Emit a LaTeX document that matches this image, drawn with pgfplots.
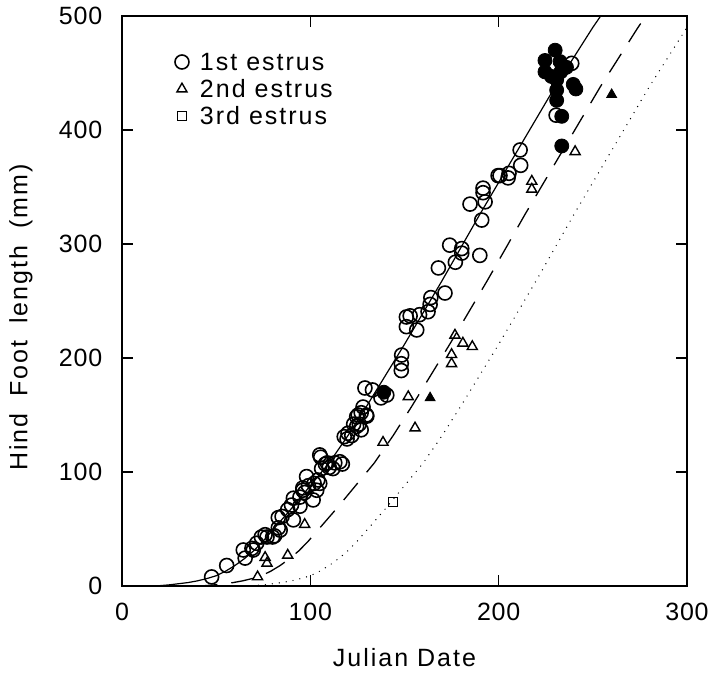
\documentclass[border=0pt]{standalone}
\usepackage{fontspec}
\setmainfont{Liberation Sans}[LetterSpace=8]
\newfontfamily\tickfont{Liberation Sans}[LetterSpace=3]
\usepackage{pgfplots}
\pgfplotsset{compat=1.18}
\newcommand{\fs}{\fontsize{12.5}{15}\selectfont}
\begin{document}
\begin{tikzpicture}
\begin{axis}[
  scale only axis,
  width=282.5pt, height=285pt,
  xmin=0, xmax=300, ymin=0, ymax=500,
  xtick={0,100,200,300}, ytick={0,100,200,300,400,500},
  tick align=inside, major tick length=5.5pt,
  axis line style={line width=0.75pt},
  every tick/.style={line width=0.75pt, black},
  /pgf/number format/assume math mode=true,
  xticklabel style={font=\tickfont\fs, inner sep=0pt, anchor=north, yshift=-8.5pt},
  yticklabel style={font=\tickfont\fs, inner sep=0pt, anchor=east, xshift=-9.7pt},
  xlabel={Julian Date},
  ylabel={Hind\hspace{4pt} Foot\hspace{4pt} length\hspace{4pt} (mm)},
  x label style={font=\fs, at={(axis description cs:0.5,-0.1263)}, anchor=center},
  y label style={font=\fs, at={(axis description cs:-0.1788,0.471)}, anchor=center},
  legend cell align=left,
  legend image code/.code={\draw[#1] plot coordinates {(0.15cm,0cm)};},
  legend style={draw=none, fill=none, font=\fs, inner sep=0pt, outer sep=0pt,
    at={(axis description cs:0.0938,0.9395)}, anchor=north west,
    column sep=4.25pt, row sep=2pt,
    nodes={inner sep=1.25pt, text height=9pt, text depth=0pt}},
]
% fitted curves
\addplot[black, line width=0.6pt, forget plot] coordinates {
(15,0)(20,0.3)(25,1)(30,2)(35,3)(40,4.5)(45,6.5)(50,9)(55,13)(60,18)(65,24)(70,31)(75,39.5)(80,49)(85,58.5)(90,68)(95,78)(100,88)(105,98)(110,108)(115,120)(120,132)(125,145)(130,158)(135,171.5)(140,185)(145,198.5)(150,212)(155,226)(160,240)(165,254)(170,268)(175,282.5)(180,297)(185,311.5)(190,326)(195,340)(200,354)(205,368)(210,382)(215,396)(220,410)(225,424)(230,438)(235,451)(240,464)(245,477)(250,490)(255,502)};
\addplot[black, line width=0.65pt, dash pattern=on 11pt off 7pt, forget plot] coordinates {
(39,0)(44,0.3)(49,1)(54,2)(59,3)(64,4.5)(69,6.5)(74,9)(79,13)(84,18)(89,24)(94,31)(99,39.5)(104,49)(109,58.5)(114,68)(119,78)(124,88)(129,98)(134,108)(139,120)(144,132)(149,145)(154,158)(159,171.5)(164,185)(169,198.5)(174,212)(179,226)(184,240)(189,254)(194,268)(199,282.5)(204,297)(209,311.5)(214,326)(219,340)(224,354)(229,368)(234,382)(239,396)(244,410)(249,424)(254,438)(259,451)(264,464)(269,477)(274,490)(279,502)};
\addplot[black, line width=0.7pt, line cap=round, dash pattern=on 0pt off 3.5pt, forget plot] coordinates {
(65,0)(70,0.3)(75,1)(80,2)(85,3)(90,4.5)(95,6.5)(100,9)(105,13)(110,18)(115,24)(120,31)(125,39.5)(130,49)(135,58.5)(140,68)(145,78)(150,88)(155,98)(160,108)(165,120)(170,132)(175,145)(180,158)(185,171.5)(190,185)(195,198.5)(200,212)(205,226)(210,240)(215,254)(220,268)(225,282.5)(230,297)(235,311.5)(240,326)(245,340)(250,354)(255,368)(260,382)(265,396)(270,410)(275,424)(280,438)(285,451)(290,464)(295,477)(300,490)};
% 1st estrus (open circles)
\addplot[only marks, mark=o, mark size=3.5pt, line width=0.8pt, black] coordinates {
(47.6,8)(55.6,18)(64.4,31.6)(65.4,24.5)(69,33)(69.7,31.6)(71.5,37.5)(74,43)(76,45)(77,43)(80,43)(81,44)(83,51)(83,60)(84,49)(85,61)(88,67)(90,71)(91,58)(91,77)(94.5,70)(94.5,78)(96,84)(96,86)(97,82)(98,96)(99,88)(101.5,75.5)(102,90)(103.4,84)(104,93)(105,90)(105,115)(105.5,113)
(106,103)(108,107)(109,108)(110,104)(112,103)(113,108)(115.7,109)(117,107)(118,131)(119.5,129)(120,134)(122,132)(123,142)(124.6,148.5)(124.6,140)(125.4,150)(126,142)(127,152)(127,137)(128,157)(129.8,150)(130,149)(129,173.7)(133,172)(137.5,165)(140.6,167.5)
(148.3,189)(148.3,195)(148.5,202.6)(151,227.5)(151,236)(153,237)(156.5,224.6)(158,238)(162.5,240.6)(163.6,247)(164,253)(168,279)(171.5,257)(174,299)(177,284)(180.4,296)(180.4,292)(184.8,335)(190,290)(191,321)(191.7,349)(191.7,345)(192.8,337)(199.7,360)(200.7,360)(205,358)(205.5,362)(211.4,382.5)(211.7,369)(230.5,413)(238.8,458.5)};
\addlegendentry{1st estrus}
% 2nd estrus (open triangles)
\addplot[only marks, mark=triangle, mark size=2.9pt, line width=0.7pt, black] coordinates {
(72,8)(76,25)(77,20)(88,27)(97,54)(138.6,126)(152,166)(155.6,138.6)(175,195)(175,203)(176.8,220)(181,213)(186,210)(217.6,355)(217.6,348)(240.6,381)};
\addlegendentry{2nd estrus}
% 3rd estrus (open squares)
\addplot[only marks, mark=square, mark size=2.25pt, line width=0.7pt, black] coordinates {(144,73.7)};
\addlegendentry{3rd estrus}
% filled symbols
\addplot[only marks, mark=*, mark size=3.5pt, black, forget plot] coordinates {
(139,170)(230,470)(224.6,461)(232.6,460)(236,455)(224.6,451)(233,451)(228,447)(230.8,444)(239.6,440)(241,436)(230.8,435)(230.8,426)(233.5,412)(233.5,386)};
\addplot[only marks, mark=triangle*, mark size=2.9pt, black, forget plot] coordinates {(163.6,165)(260,431)};
\coordinate (bbll) at (rel axis cs:-0.2159,-0.1526);
\coordinate (bbur) at (rel axis cs:1.0478,1.0281);
\end{axis}
\path[use as bounding box] (bbll) rectangle (bbur);
\end{tikzpicture}
\end{document}
